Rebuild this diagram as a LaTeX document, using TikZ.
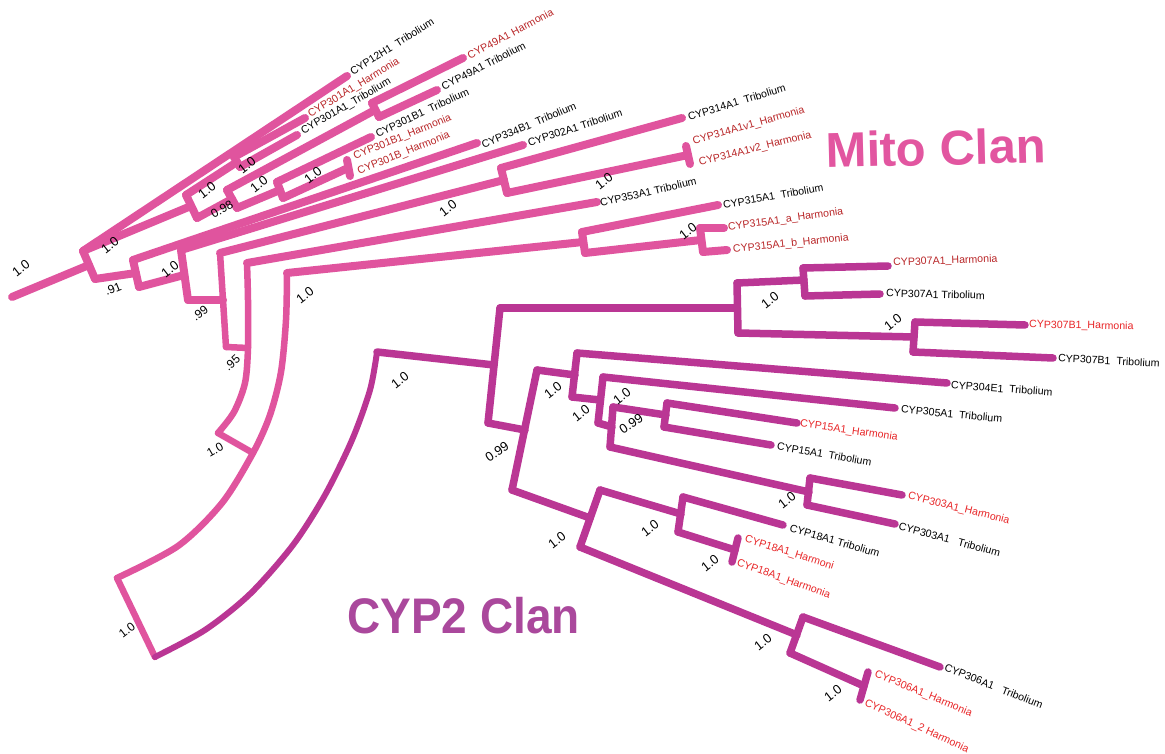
\documentclass[tikz,border=0pt]{standalone}
\usepackage{fontspec}
\setmainfont{Liberation Sans}
\definecolor{mitopink}{RGB}{224,84,158}
\definecolor{cyppurple}{RGB}{186,54,148}
\definecolor{mitored}{RGB}{185,38,40}
\definecolor{cypred}{RGB}{232,38,40}
\definecolor{mitotext}{RGB}{226,86,160}
\definecolor{cyptext}{RGB}{170,72,156}
\tikzset{
  mito/.style={draw=mitopink, line width=8pt, line cap=round, line join=round},
  mitoarc/.style={draw=mitopink, line width=6.5pt, line cap=round, line join=round},
  cyp/.style={draw=cyppurple, line width=7.5pt, line cap=round, line join=round},
  cyparc/.style={draw=cyppurple, line width=6pt, line cap=round, line join=round},
  leaf/.style={font=\fontsize{10.6}{12}\selectfont, anchor=west, inner sep=0pt},
  harmM/.style={leaf, text=mitored},
  harmC/.style={leaf, text=cypred},
  trib/.style={leaf, text=black},
  support/.style={font=\fontsize{13}{14}\selectfont, inner sep=0pt, rotate=38},
  supsmall/.style={font=\fontsize{12}{13}\selectfont, inner sep=0pt, rotate=30},
}
\begin{document}
\begin{tikzpicture}[x=1pt,y=-1pt]
\useasboundingbox (0,0) rectangle (1165,754);
\fill[white] (0,0) rectangle (1165,754);

% ---------------- Mito clan coordinates ----------------
\coordinate (root) at (12,297);
\coordinate (Am) at (89,265); \coordinate (At) at (83,251); \coordinate (Ab) at (95,279);
\coordinate (t12) at (347,76);
\coordinate (Bm) at (191,206); \coordinate (Bt) at (186,195); \coordinate (Bb) at (197,218);
\coordinate (Cm) at (237,162); \coordinate (Ct) at (234,157); \coordinate (Cb) at (240,167);
\coordinate (t301AH) at (305,118); \coordinate (t301AT) at (297,135);
\coordinate (Dm) at (232,199); \coordinate (Dt) at (227,190); \coordinate (Db) at (237,208);
\coordinate (Em) at (375,110); \coordinate (Et) at (372,103); \coordinate (Eb) at (379,117);
\coordinate (t49H) at (463,58); \coordinate (t49T) at (437,90);
\coordinate (Fm) at (280,190); \coordinate (Ft) at (277,182); \coordinate (Fb) at (283,198);
\coordinate (t301BT) at (371,137);
\coordinate (Gm) at (348,168); \coordinate (Gt) at (347,160); \coordinate (Gb) at (350,176);
\coordinate (Hm) at (136,273); \coordinate (Ht) at (133,260); \coordinate (Hb) at (139,287);
\coordinate (t334) at (477,143);
\coordinate (Im) at (184,275); \coordinate (It) at (181,250); \coordinate (Ib) at (188,300);
\coordinate (t302) at (523,145);
\coordinate (Jt) at (220,253); \coordinate (Jm) at (223,300); \coordinate (Jb) at (226,347);
\coordinate (Km) at (504,180); \coordinate (Kt) at (501,168); \coordinate (Kb) at (507,193);
\coordinate (t314) at (682,118);
\coordinate (Lm) at (688,155); \coordinate (Lt) at (686,146); \coordinate (Lb) at (690,164);
\coordinate (Mt) at (247,263); \coordinate (Mm) at (248,348); \coordinate (Mb) at (218,433);
\coordinate (t353) at (597,202);
\coordinate (Nt) at (287,273); \coordinate (Nm) at (253,453); \coordinate (Nb) at (117,578);
\coordinate (Om) at (583,242); \coordinate (Ot) at (582,232); \coordinate (Ob) at (585,253);
\coordinate (t315) at (718,205);
\coordinate (Pm) at (701,240); \coordinate (Pt) at (700,228); \coordinate (Pb) at (703,252);
\coordinate (t315a) at (724,228); \coordinate (t315b) at (727,250);
\coordinate (Q) at (155,657);
\coordinate (R2s) at (377,352);

% ---------------- CYP2 clan coordinates ----------------
\coordinate (R2m) at (494,365); \coordinate (R2t) at (500,308); \coordinate (R2b) at (488,423);
\coordinate (S7m) at (737,308); \coordinate (S7t) at (737,283); \coordinate (S7b) at (738,333);
\coordinate (S7Am) at (804,280); \coordinate (S7At) at (803,268); \coordinate (S7Ab) at (805,296);
\coordinate (t307AH) at (888,266); \coordinate (t307AT) at (880,294);
\coordinate (S7Bm) at (914,337); \coordinate (S7Bt) at (915,322); \coordinate (S7Bb) at (913,352);
\coordinate (t307BH) at (1025,325); \coordinate (t307BT) at (1053,358);
\coordinate (Um) at (525,430); \coordinate (Ut) at (537,370); \coordinate (Ub) at (512,490);
\coordinate (Vm) at (575,375); \coordinate (Vt) at (577,353); \coordinate (Vb) at (572,397);
\coordinate (t304) at (947,383);
\coordinate (Wm) at (600,400); \coordinate (Wt) at (603,377); \coordinate (Wb) at (598,423);
\coordinate (t305) at (895,408);
\coordinate (Xm) at (612,427); \coordinate (Xt) at (613,407); \coordinate (Xb) at (610,447);
\coordinate (Ym) at (666,415); \coordinate (Yt) at (667,403); \coordinate (Yb) at (664,427);
\coordinate (t15H) at (797,423); \coordinate (t15T) at (771,445);
\coordinate (Zm) at (809,492); \coordinate (Zt) at (810,478); \coordinate (Zb) at (807,505);
\coordinate (t303H) at (902,495); \coordinate (t303T) at (895,524);
\coordinate (Tm) at (590,518); \coordinate (Tt) at (600,490); \coordinate (Tb) at (580,547);
\coordinate (T18m) at (681,514); \coordinate (T18t) at (683,497); \coordinate (T18b) at (678,532);
\coordinate (t18T) at (783,525);
\coordinate (T18pm) at (735,550); \coordinate (T18pt) at (738,538); \coordinate (T18pb) at (732,562);
\coordinate (T6m) at (797,635); \coordinate (T6t) at (803,617); \coordinate (T6b) at (790,653);
\coordinate (t306T) at (940,667);
\coordinate (T6pm) at (864,686); \coordinate (T6pt) at (868,672); \coordinate (T6pb) at (860,700);

% ---------------- Mito branches ----------------
\draw[mito] (root) -- (Am);
\draw[mito] (At) -- (Ab);
\draw[mito] (At) -- (t12);
\draw[mito] (At) -- (Bm);
\draw[mito] (Bt) -- (Bb);
\draw[mito] (Bt) -- (Cm);
\draw[mito] (Ct) -- (Cb);
\draw[mito] (Ct) -- (t301AH);
\draw[mito] (Cb) -- (t301AT);
\draw[mito] (Bb) -- (Dm);
\draw[mito] (Dt) -- (Db);
\draw[mito] (Dt) -- (Em);
\draw[mito] (Et) -- (Eb);
\draw[mito] (Et) -- (t49H);
\draw[mito] (Eb) -- (t49T);
\draw[mito] (Db) -- (Fm);
\draw[mito] (Ft) -- (Fb);
\draw[mito] (Ft) -- (t301BT);
\draw[mito] (Fb) -- (Gm);
\draw[mito] (Gt) -- (Gb);
\draw[mito] (Ab) -- (Hm);
\draw[mito] (Ht) -- (Hb);
\draw[mito] (Ht) -- (t334);
\draw[mito] (Hb) -- (Im);
\draw[mito] (It) -- (Ib);
\draw[mito] (It) -- (t302);
\draw[mito] (Ib) -- (Jm);
\draw[mitoarc] (Jt) -- (Jm) -- (Jb);
\draw[mito] (Jt) -- (Km);
\draw[mito] (Kt) -- (Kb);
\draw[mito] (Kt) -- (t314);
\draw[mito] (Kb) -- (Lm);
\draw[mito] (Lt) -- (Lb);
\draw[mitoarc] (Jb) -- (Mm);
\draw[mitoarc] plot[smooth] coordinates {(Mt) (248,300) (Mm) (245,383) (234,412) (Mb)};
\draw[mito] (Mt) -- (t353);
\draw[mitoarc] (Mb) -- (Nm);
\draw[mitoarc] plot[smooth] coordinates {(Nt) (286,320) (281,372) (270,415) (Nm) (222,503) (178,546) (Nb)};
\draw[mito] (Nt) -- (Om);
\draw[mito] (Ot) -- (Ob);
\draw[mito] (Ot) -- (t315);
\draw[mito] (Ob) -- (Pm);
\draw[mito] (Pt) -- (Pb);
\draw[mito] (Pt) -- (t315a);
\draw[mito] (Pb) -- (t315b);
\draw[mitoarc] (Nb) -- (Q);

% ---------------- CYP2 branches ----------------
\draw[cyparc] plot[smooth] coordinates {(Q) (205,630) (250,594) (293,545) (325,495) (352,440) (370,390) (R2s)};
\draw[cyp] (R2s) -- (R2m);
\draw[cyp] (R2t) -- (R2b);
\draw[cyp] (R2t) -- (S7m);
\draw[cyp] (S7t) -- (S7b);
\draw[cyp] (S7t) -- (S7Am);
\draw[cyp] (S7At) -- (S7Ab);
\draw[cyp] (S7At) -- (t307AH);
\draw[cyp] (S7Ab) -- (t307AT);
\draw[cyp] (S7b) -- (S7Bm);
\draw[cyp] (S7Bt) -- (S7Bb);
\draw[cyp] (S7Bt) -- (t307BH);
\draw[cyp] (S7Bb) -- (t307BT);
\draw[cyp] (R2b) -- (Um);
\draw[cyp] (Ut) -- (Ub);
\draw[cyp] (Ut) -- (Vm);
\draw[cyp] (Vt) -- (Vb);
\draw[cyp] (Vt) -- (t304);
\draw[cyp] (Vb) -- (Wm);
\draw[cyp] (Wt) -- (Wb);
\draw[cyp] (Wt) -- (t305);
\draw[cyp] (Wb) -- (Xm);
\draw[cyp] (Xt) -- (Xb);
\draw[cyp] (Xt) -- (Ym);
\draw[cyp] (Yt) -- (Yb);
\draw[cyp] (Yt) -- (t15H);
\draw[cyp] (Yb) -- (t15T);
\draw[cyp] (Xb) -- (Zm);
\draw[cyp] (Zt) -- (Zb);
\draw[cyp] (Zt) -- (t303H);
\draw[cyp] (Zb) -- (t303T);
\draw[cyp] (Ub) -- (Tm);
\draw[cyp] (Tt) -- (Tb);
\draw[cyp] (Tt) -- (T18m);
\draw[cyp] (T18t) -- (T18b);
\draw[cyp] (T18t) -- (t18T);
\draw[cyp] (T18b) -- (T18pm);
\draw[cyp] (T18pt) -- (T18pb);
\draw[cyp] (Tb) -- (T6m);
\draw[cyp] (T6t) -- (T6b);
\draw[cyp] (T6t) -- (t306T);
\draw[cyp] (T6b) -- (T6pm);
\draw[cyp] (T6pt) -- (T6pb);

% ---------------- Mito leaf labels ----------------
\node[trib, rotate=32] (l12) at (351,72) {CYP12H1\ \ Tribolium};
\node[harmM, rotate=31] (l301AH) at (309,115) {CYP301A1\_Harmonia};
\node[trib, rotate=30] (l301AT) at (302,132) {CYP301A1\_Tribolium};
\node[harmM, rotate=28] (l49H) at (468,56) {CYP49A1 Harmonia};
\node[trib, rotate=27] (l49T) at (442,87) {CYP49A1 Tribolium};
\node[trib, rotate=25] (l301BT) at (376,134) {CYP301B1\ \ Tribolium};
\node[harmM, rotate=22] (l301BH1) at (354,157) {CYP301B1\_Harmonia};
\node[harmM, rotate=22] (l301BH2) at (358,172) {CYP301B\_Harmonia};
\node[trib, rotate=23] (l334) at (482,145) {CYP334B1\ \ Tribolium};
\node[trib, rotate=18] (l302) at (528,143) {CYP302A1 Tribolium};
\node[trib, rotate=17] (l314) at (688,117) {CYP314A1\ \ Tribolium};
\node[harmM, rotate=16] (l314v1) at (693,142) {CYP314A1v1\_Harmonia};
\node[harmM, rotate=14] (l314v2) at (699,163) {CYP314A1v2\_Harmonia};
\node[trib, rotate=13] (l353) at (600,203) {CYP353A1 Tribolium};
\node[trib, rotate=10] (l315) at (723,205) {CYP315A1\ \ Tribolium};
\node[harmM, rotate=8] (l315a) at (728,228) {CYP315A1\_a\_Harmonia};
\node[harmM, rotate=6] (l315b) at (733,250) {CYP315A1\_b\_Harmonia};

% ---------------- CYP2 leaf labels ----------------
\node[harmM, rotate=2] (l307AH) at (893,263) {CYP307A1\_Harmonia};
\node[trib, rotate=-1.5] (l307AT) at (886,293) {CYP307A1 Tribolium};
\node[harmC, rotate=-1] (l307BH) at (1029,325) {CYP307B1\_Harmonia};
\node[trib, rotate=-3] (l307BT) at (1058,358) {CYP307B1\ \ Tribolium};
\node[trib, rotate=-4] (l304) at (951,385) {CYP304E1\ \ Tribolium};
\node[trib, rotate=-5.5] (l305) at (901,409) {CYP305A1\ \ Tribolium};
\node[harmC, rotate=-8] (l15H) at (800,424) {CYP15A1\_Harmonia};
\node[trib, rotate=-10] (l15T) at (777,446) {CYP15A1\ \ Tribolium};
\node[harmC, rotate=-14] (l303H) at (908,496) {CYP303A1\_Harmonia};
\node[trib, rotate=-15] (l303T) at (899,526) {CYP303A1\ \ \ Tribolium};
\node[trib, rotate=-16] (l18T) at (790,528) {CYP18A1 Tribolium};
\node[harmC, rotate=-17.5] (l18H1) at (745,539) {CYP18A1\_Harmoni};
\node[harmC, rotate=-19.5] (l18H2) at (737,563) {CYP18A1\_Harmonia};
\node[trib, rotate=-21.5] (l306T) at (945,667) {CYP306A1\ \ \ Tribolium};
\node[harmC, rotate=-22.5] (l306H1) at (875,674) {CYP306A1\_Harmonia};
\node[harmC, rotate=-24.5] (l306H2) at (865,703) {CYP306A1\_2 Harmonia};

% ---------------- support values ----------------
\node[support] (s0) at (21,268) {1.0};
\node[support] (s1) at (110,245) {1.0};
\node[supsmall, rotate=-8] (s2) at (113,289) {.91};
\node[support] (s3) at (207,190) {1.0};
\node[support] (s4) at (247,165) {1.0};
\node[supsmall] (s5) at (222,209) {0.98};
\node[support] (s6) at (259,184) {1.0};
\node[support] (s7) at (313,175) {1.0};
\node[support] (s8) at (170,269) {1.0};
\node[supsmall, rotate=8] (s9) at (200,313) {.99};
\node[supsmall, rotate=12] (s10) at (232,363) {.95};
\node[supsmall] (s11) at (215,450) {1.0};
\node[support] (s12) at (305,295) {1.0};
\node[supsmall, rotate=8] (s13) at (127,630) {1.0};
\node[support] (s14) at (448,208) {1.0};
\node[support] (s15) at (604,181) {1.0};
\node[support] (s16) at (688,231) {1.0};
\node[support] (c1) at (400,380) {1.0};
\node[support, rotate=-4] (c2) at (497,452) {0.99};
\node[support] (c3) at (553,390) {1.0};
\node[support] (c4) at (581,413) {1.0};
\node[support] (c5) at (622,396) {1.0};
\node[support, rotate=-4] (c6) at (631,424) {0.99};
\node[support] (c7) at (770,300) {1.0};
\node[support] (c8) at (893,322) {1.0};
\node[support] (c9) at (787,500) {1.0};
\node[support] (c10) at (650,528) {1.0};
\node[support] (c11) at (710,563) {1.0};
\node[support] (c12) at (557,540) {1.0};
\node[support] (c13) at (763,642) {1.0};
\node[support] (c14) at (833,693) {1.0};

% ---------------- clan titles ----------------
\node[anchor=base west, inner sep=0pt, text=mitotext, rotate=1.5,
      font=\fontsize{49}{50}\selectfont\bfseries] (mito) at (826,168) {Mito Clan};
\node[anchor=base west, inner sep=0pt, text=cyptext,
      font=\fontsize{50}{51}\selectfont\bfseries] (cyp2) at (347,633) {\scalebox{0.92}[1]{CYP2 Clan}};
\end{tikzpicture}
\end{document}
